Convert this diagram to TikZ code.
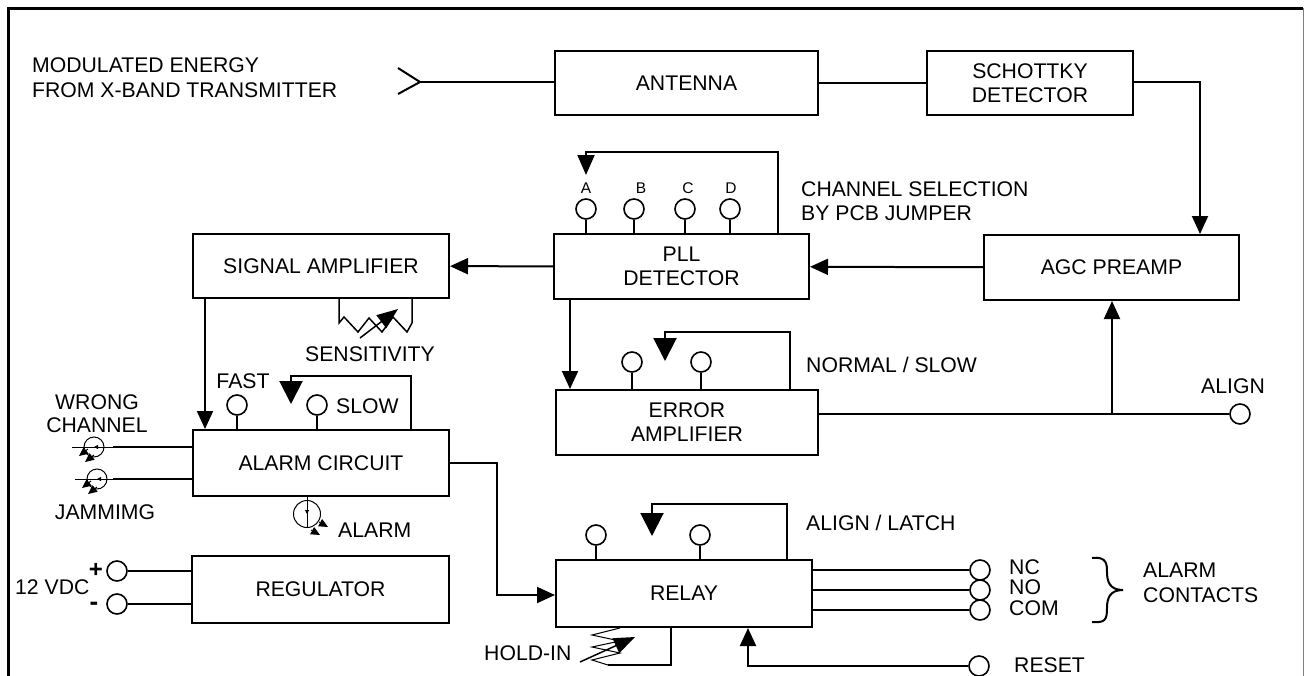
\documentclass[tikz,border=0pt]{standalone}
\usepackage{fontspec}
\setmainfont{Liberation Sans}
\usetikzlibrary{arrows.meta}
\tikzset{
  box/.style={draw, line width=2pt, inner sep=0pt},
  term/.style={draw, circle, line width=1.6pt, minimum size=20pt, inner sep=0pt},
  led/.style={draw, circle, line width=1pt, inner sep=0pt},
  lbl/.style={inner sep=0pt, align=left},
  smalllbl/.style={inner sep=0pt, font=\fontsize{15.5}{17}\selectfont},
  wire/.style={line width=2pt},
  thinwire/.style={line width=1pt},
  tip/.style={-{Triangle[length=18pt,width=16pt]}},
  bigtip/.style={-{Triangle[length=23pt,width=23pt]}},
  pottip/.style={-{Triangle[length=21pt,width=16pt]}},
  smalltip/.style={-{Triangle[length=9pt,width=8pt]}},
  dottip/.style={-{Triangle[length=4pt,width=4pt]}}
}
\begin{document}
\begin{tikzpicture}[x=1pt, y=-1pt, font=\fontsize{21.2}{24}\selectfont]
\useasboundingbox (0,0) rectangle (1304,675);
\draw[line width=3pt] (8,676) -- (8,8) -- (1303,8);
\draw[line width=1pt, black!50] (1303.5,8) -- (1303.5,676);
% blocks
\node[box, minimum width=263pt, minimum height=64pt] (antenna) at (686.5,83) {ANTENNA};
\node[box, minimum width=206pt, minimum height=64pt, align=center] (schottky) at (1030,83) {SCHOTTKY\\DETECTOR};
\node[box, minimum width=255pt, minimum height=65pt, align=center] (pll) at (681.5,266.5) {PLL\\DETECTOR};
\node[box, minimum width=255pt, minimum height=65pt] (agc) at (1111.5,267.5) {AGC PREAMP};
\node[box, minimum width=256pt, minimum height=64pt] (sigamp) at (321,266) {SIGNAL AMPLIFIER};
\node[box, minimum width=262pt, minimum height=65pt, align=center] (erramp) at (687,422.5) {ERROR\\AMPLIFIER};
\node[box, minimum width=256pt, minimum height=66pt] (alarm) at (321,463) {ALARM CIRCUIT};
\node[box, minimum width=257pt, minimum height=67pt] (regulator) at (320.5,589.5) {REGULATOR};
\node[box, minimum width=256pt, minimum height=67pt] (relay) at (684,593.5) {RELAY};
% terminals
\node[term] (pinA) at (586,209) {};
\node[term] (pinB) at (634,209) {};
\node[term] (pinC) at (685,209) {};
\node[term] (pinD) at (730,209) {};
\node[term] (pinN) at (632,362) {};
\node[term] (pinS) at (701,362) {};
\node[term] (pinFast) at (237,405) {};
\node[term] (pinSlow) at (317,405) {};
\node[term] (pinAl) at (596,535) {};
\node[term] (pinLa) at (700,535) {};
\node[term] (align) at (1240,414) {};
\node[term] (pinNC) at (980,570) {};
\node[term] (pinNO) at (980,590) {};
\node[term] (pinCOM) at (980,610) {};
\node[term] (reset) at (979,666) {};
\node[term] (plus) at (117,571) {};
\node[term] (minus) at (117,604) {};
% indicators
\node[led, minimum size=20pt] (ledW) at (94,447) {};
\node[led, minimum size=20pt] (ledJ) at (97,479) {};
\node[led, minimum size=27pt] (ledA) at (307,514) {};
% texts
\node[lbl, anchor=west] (modA) at (32,65) {MODULATED ENERGY};
\node[lbl, anchor=west] (modB) at (32,90) {FROM X-BAND TRANSMITTER};
\node[lbl, anchor=west] (chanA) at (801,189) {CHANNEL SELECTION};
\node[lbl, anchor=west] (chanB) at (801,213) {BY PCB JUMPER};
\node[smalllbl] (txtA) at (586,188) {A};
\node[smalllbl] (txtB) at (641,188) {B};
\node[smalllbl] (txtC) at (688,188) {C};
\node[smalllbl] (txtD) at (731,188) {D};
\node[lbl] (sens) at (370,354) {SENSITIVITY};
\node[lbl, anchor=west] (norm) at (806,365) {NORMAL / SLOW};
\node[lbl, anchor=west] (alignt) at (1201,386) {ALIGN};
\node[lbl] (fast) at (243,381) {FAST};
\node[lbl, anchor=west] (slow) at (336,406) {SLOW};
\node[lbl] (wrongA) at (97,402) {WRONG};
\node[lbl] (wrongB) at (97,425) {CHANNEL};
\node[lbl] (jam) at (105,512) {JAMMIMG};
\node[lbl, anchor=west] (alarmt) at (338,530) {ALARM};
\node[lbl, anchor=west] (latch) at (806,523) {ALIGN / LATCH};
\node[lbl, anchor=west] (vdc) at (15,587) {12 VDC};
\node[lbl, font=\fontsize{24}{26}\bfseries] (plust) at (96,570) {+};
\node[lbl, font=\fontsize{26}{28}\bfseries] (minust) at (94,606) {-};
\node[lbl, anchor=west] (nc) at (1009,567) {NC};
\node[lbl, anchor=west] (no) at (1009,587) {NO};
\node[lbl, anchor=west] (com) at (1009,608) {COM};
\node[lbl, anchor=west] (contA) at (1143,570) {ALARM};
\node[lbl, anchor=west] (contB) at (1143,595) {CONTACTS};
\node[lbl, anchor=west] (resett) at (1014,665) {RESET};
\node[lbl, anchor=west] (hold) at (484,653) {HOLD-IN};
% antenna input
\coordinate (horn) at (420,82);
\draw[wire] (398,68) -- (horn) -- (398,94);
\draw[wire] (horn) -- (horn -| antenna.west);
\draw[wire] (antenna) -- (schottky);
% signal path
\coordinate (schbend) at (1200,82);
\draw[wire, tip] (schottky.east |- schbend) -- (schbend) -- (schbend |- agc.north);
\draw[wire, tip] (agc) -- (pll);
\draw[wire, tip] (pll) -- (sigamp);
\coordinate (pllout) at (570,340);
\draw[wire, tip] (pll.south -| pllout) -- (erramp.north -| pllout);
\coordinate (sigout) at (205,340);
\draw[wire, tip] (sigamp.south -| sigout) -- (alarm.north -| sigout);
\draw[wire] (erramp.east |- align) -- (align);
\coordinate (branch) at (1112,414);
\draw[wire, tip] (branch) -- (branch |- agc.south);
% channel jumpers
\foreach \p in {pinA,pinB,pinC,pinD}
  \draw[wire] (\p) -- (\p |- pll.north);
\coordinate (chloop) at (778,152);
\coordinate (chtip) at (586,175);
\draw[wire, -{Triangle[length=20pt,width=17pt]}] (pll.north -| chloop) -- (chloop) -| (chtip);
% normal / slow jumper
\foreach \p in {pinN,pinS}
  \draw[wire] (\p) -- (\p |- erramp.north);
\coordinate (nsloop) at (790,332);
\coordinate (nstip) at (665,361);
\draw[wire, bigtip] (erramp.north -| nsloop) -- (nsloop) -| (nstip);
% fast / slow jumper
\foreach \p in {pinFast,pinSlow}
  \draw[wire] (\p) -- (\p |- alarm.north);
\coordinate (fsloop) at (411,376);
\coordinate (fstip) at (291,404);
\draw[wire, bigtip] (alarm.north -| fsloop) -- (fsloop) -| (fstip);
% align / latch jumper
\foreach \p in {pinAl,pinLa}
  \draw[wire] (\p) -- (\p |- relay.north);
\coordinate (alloop) at (787,504);
\coordinate (altip) at (652,536);
\draw[wire, bigtip] (relay.north -| alloop) -- (alloop) -| (altip);
% sensitivity pot
\draw[line width=1.5pt] (sigamp.south -| 339,0) -- (339,323) -- (344,317) -- (358,332) -- (369,318) -- (382,332) -- (393,317) -- (407,332) -- (412,323) -- (sigamp.south -| 412,0);
\draw[line width=1.5pt, pottip] (360,338) -- (398,309);
% alarm to relay
\coordinate (albend) at (497,463);
\coordinate (albend2) at (497,595);
\draw[wire, tip] (alarm.east |- albend) -- (albend) -- (albend2) -- (relay.west |- albend2);
% inputs
\coordinate (wIn) at (72,447);
\coordinate (wOut) at (113,447);
\coordinate (jIn) at (75,479);
\coordinate (jOut) at (113,479);
\draw[thinwire] (wIn) -- (wOut);
\draw[wire] (wOut) -- (alarm.west |- wOut);
\draw[thinwire] (jIn) -- (jOut);
\draw[wire] (jOut) -- (alarm.west |- jOut);
\draw[thinwire, dottip] (ledW.east) -- (ledW.center);
\draw[thinwire, dottip] (ledJ.east) -- (ledJ.center);
\draw[thinwire, smalltip] (88,449) -- (79,456);
\draw[thinwire, smalltip] (94,455) -- (85,462);
\draw[thinwire, smalltip] (91,481) -- (82,488);
\draw[thinwire, smalltip] (97,487) -- (88,494);
\draw[thinwire] (ledA |- alarm.south) -- (ledA.south);
\draw[thinwire, dottip] (ledA.north) -- (ledA.center);
\draw[thinwire, smalltip] (319,522) -- (328,527);
\draw[thinwire, smalltip] (311,530) -- (320,535);
% supply
\draw[wire] (plus) -- (plus -| regulator.west);
\draw[wire] (minus) -- (minus -| regulator.west);
% contacts
\draw[wire] (pinNC) -- (pinNC -| relay.east);
\draw[wire] (pinNO) -- (pinNO -| relay.east);
\draw[wire] (pinCOM) -- (pinCOM -| relay.east);
\draw[wire] (1092,558) .. controls (1107,556) and (1107,565) .. (1107,572) .. controls (1107,582) and (1110,590) .. (1123,590) .. controls (1110,590) and (1107,598) .. (1107,608) .. controls (1107,620) and (1105,623) .. (1092,622);
% reset
\coordinate (rsbend) at (748,666);
\draw[wire, tip] (reset) -- (rsbend) -- (rsbend |- relay.south);
% hold-in pot
\coordinate (hobend) at (671,665);
\draw[wire] (relay.south -| hobend) -- (hobend) -- (608,665);
\draw[line width=1pt] (620,628) -- (592,635) -- (620,641) -- (592,647) -- (620,653) -- (592,660) -- (608,665);
\draw[line width=1.5pt, pottip] (580,662) -- (635,637);
\end{tikzpicture}
\end{document}
